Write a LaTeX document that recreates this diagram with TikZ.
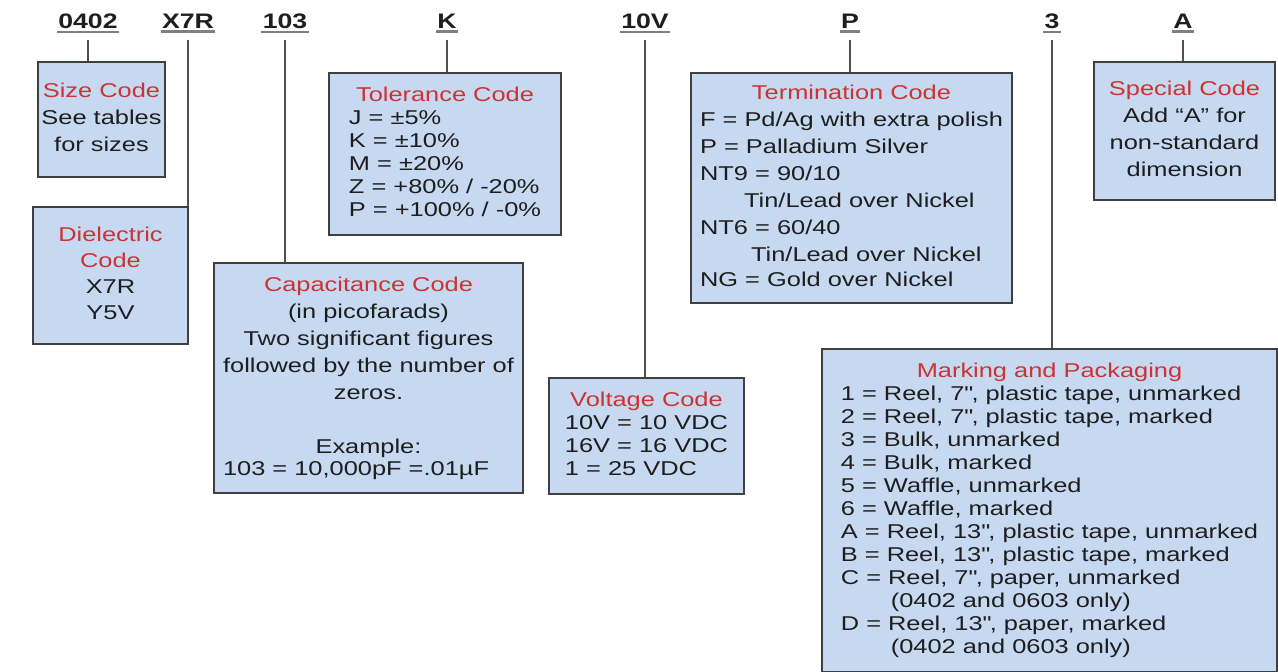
\documentclass[tikz,border=0pt]{standalone}
\usepackage{fontspec}
\setmainfont{Liberation Sans}[FakeStretch=1.27]
\usepackage{xcolor}
\usepackage{tikz}
\usetikzlibrary{positioning}

\definecolor{boxblue}{RGB}{198,217,240}
\definecolor{codered}{RGB}{204,51,51}
\definecolor{edgegray}{RGB}{64,64,64}
\definecolor{linegray}{RGB}{80,80,80}
\definecolor{textgray}{RGB}{30,30,30}

\newcommand{\codetitle}[1]{\textcolor{codered}{#1}}
\newcommand{\inch}{\textquotedbl}

\tikzset{
  infobox/.style={draw=edgegray, line width=1pt, fill=boxblue, text=textgray, inner sep=0pt},
  widerows/.style={font=\fontsize{10}{13.5}\selectfont},
  tightrows/.style={font=\fontsize{10}{11.5}\selectfont},
  partcode/.style={font=\fontsize{10.5}{12}\selectfont\bfseries, text=textgray, inner xsep=0.5pt, inner ysep=1.6pt, anchor=base},
  underbar/.style={draw=gray, line width=1.3pt},
  codeline/.style={draw=linegray, line width=1.25pt}
}

\begin{document}
\begin{tikzpicture}[x=0.5pt, y=-0.5pt]
        \useasboundingbox (0,0) rectangle (1278,671);
        % part number fields
        \node[partcode] (c0402) at (88,28) {0402};
        \node[partcode] (cx7r) at (188,28) {X7R};
        \node[partcode] (c103) at (285,28) {103};
        \node[partcode] (ck) at (447,28) {K};
        \node[partcode] (c10v) at (645,28) {10V};
        \node[partcode] (cp) at (850,28) {P};
        \node[partcode] (c3) at (1052,28) {3};
        \node[partcode] (ca) at (1183,28) {A};
        \foreach \c in {c0402,cx7r,c103,ck,c10v,cp,c3,ca}
          \draw[underbar] (\c.south west) -- (\c.south east);

        % explanation boxes
        \node[infobox, widerows, minimum width=63.5pt, minimum height=57.5pt] (size) at (101.5,119.5) {\begin{tabular}{@{}c@{}}
          \codetitle{Size Code}\\ See tables\\ for sizes
        \end{tabular}};
        \node[infobox, font=\fontsize{10}{13}\selectfont, minimum width=77.5pt, minimum height=68.5pt] (diel) at (110.5,275.5) {\begin{tabular}{@{}c@{}}
          \codetitle{Dielectric}\\ \codetitle{Code}\\ X7R\\ Y5V
        \end{tabular}};
        \node[infobox, widerows, minimum width=154.5pt, minimum height=115pt] (cap) at (368.5,378) {\begin{tabular}{@{}c@{}}
          \codetitle{Capacitance Code}\\ (in picofarads)\\ Two significant figures\\ followed by the number of\\ zeros.\\ \\ Example:\\[-2.5pt]
          \multicolumn{1}{@{}l@{}}{103 = 10,000pF =.01µF}
        \end{tabular}};
        \node[infobox, tightrows, minimum width=116pt, minimum height=81pt] (tol) at (445,154) {\begin{tabular}{@{}l@{}}
          \multicolumn{1}{@{}c@{}}{\codetitle{Tolerance Code}}\\ J = ±5\%\\ K = ±10\%\\ M = ±20\%\\ Z = +80\% / -20\%\\ P = +100\% / -0\%
        \end{tabular}};
        \node[infobox, tightrows, minimum width=97.5pt, minimum height=58pt] (volt) at (646.5,436) {\begin{tabular}{@{}l@{}}
          \multicolumn{1}{@{}c@{}}{\codetitle{Voltage Code}}\\ 10V = 10 VDC\\ 16V = 16 VDC\\ 1 = 25 VDC
        \end{tabular}};
        \node[infobox, widerows, minimum width=160.5pt, minimum height=115pt] (term) at (851.5,188) {\begin{tabular}{@{}l@{}}
          \multicolumn{1}{@{}c@{}}{\codetitle{Termination Code}}\\ F = Pd/Ag with extra polish\\ P = Palladium Silver\\ NT9 = 90/10\\
          \hspace*{22pt}Tin/Lead over Nickel\\ NT6 = 60/40\\ \hspace*{25.5pt}Tin/Lead over Nickel\\[-1pt] NG = Gold over Nickel
        \end{tabular}};
        \node[infobox, widerows, minimum width=90.5pt, minimum height=69pt] (spec) at (1184.5,131) {\begin{tabular}{@{}c@{}}
          \codetitle{Special Code}\\ Add “A” for\\ non-standard\\ dimension
        \end{tabular}};
        \node[infobox, tightrows, minimum width=227.5pt, minimum height=161.5pt] (mark) at (1049.5,510.5) {\begin{tabular}{@{}l@{}}
          \multicolumn{1}{@{}c@{}}{\codetitle{Marking and Packaging}}\\
          1 = Reel, 7\inch, plastic tape, unmarked\\ 2 = Reel, 7\inch, plastic tape, marked\\
          3 = Bulk, unmarked\\ 4 = Bulk, marked\\ 5 = Waffle, unmarked\\ 6 = Waffle, marked\\
          A = Reel, 13\inch, plastic tape, unmarked\\ B = Reel, 13\inch, plastic tape, marked\\
          C = Reel, 7\inch, paper, unmarked\\ \hspace*{25pt}(0402 and 0603 only)\\
          D = Reel, 13\inch, paper, marked\\ \hspace*{25pt}(0402 and 0603 only)
        \end{tabular}};

        % leader lines
        \draw[codeline] ([yshift=-4pt]c0402.south) -- (c0402.south |- size.north);
        \draw[codeline] ([yshift=-4pt]cx7r.south) -- (cx7r.south |- diel.north);
        \draw[codeline] ([yshift=-4pt]c103.south) -- (c103.south |- cap.north);
        \draw[codeline] ([yshift=-4pt]ck.south) -- (ck.south |- tol.north);
        \draw[codeline] ([yshift=-4pt]c10v.south) -- (c10v.south |- volt.north);
        \draw[codeline] ([yshift=-4pt]cp.south) -- (cp.south |- term.north);
        \draw[codeline] ([yshift=-4pt]c3.south) -- (c3.south |- mark.north);
        \draw[codeline] ([yshift=-4pt]ca.south) -- (ca.south |- spec.north);
\end{tikzpicture}
\end{document}
